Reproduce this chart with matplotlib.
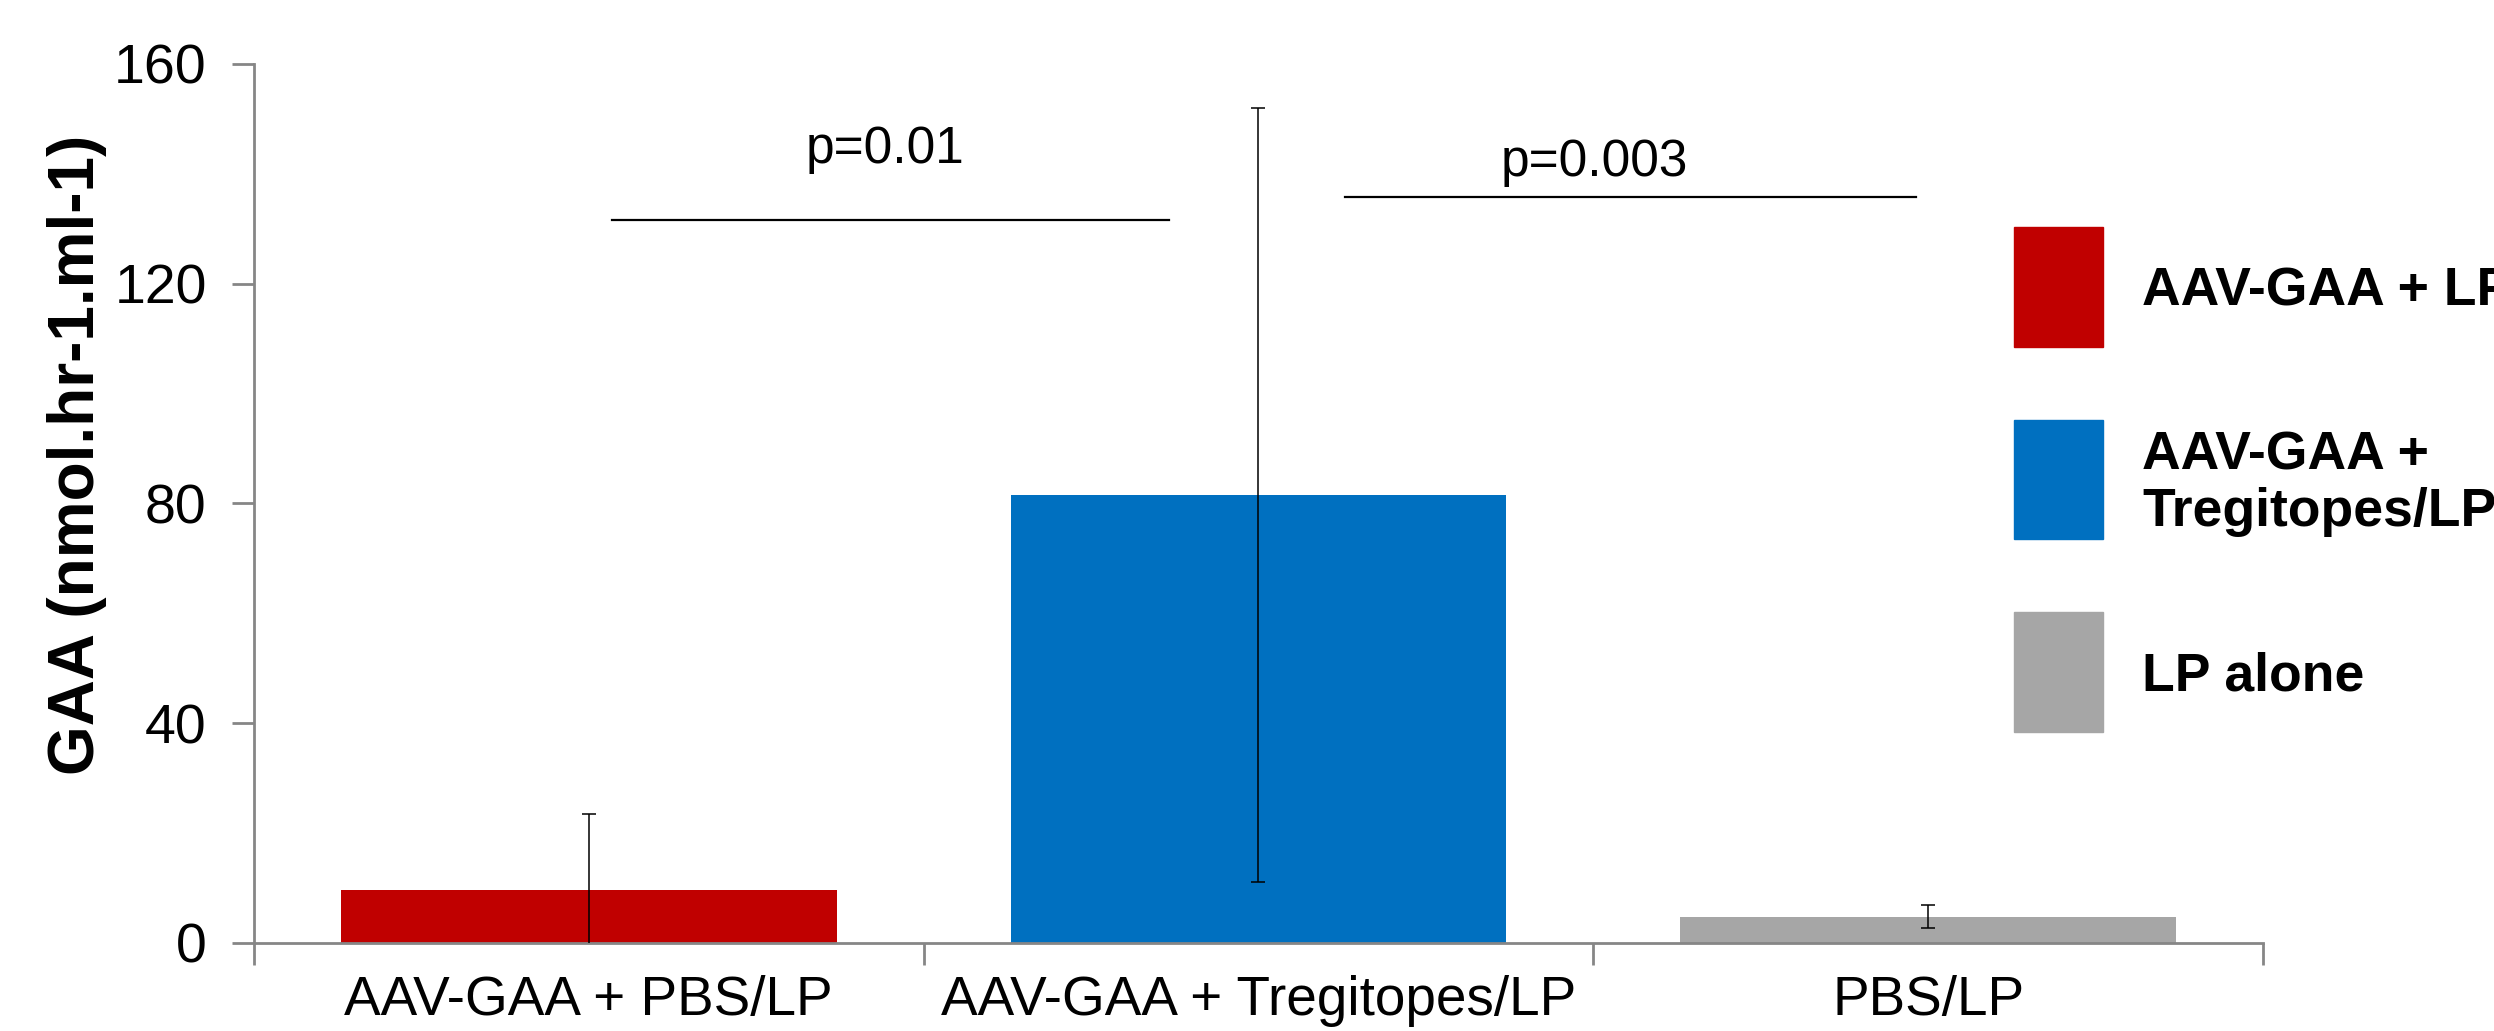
import matplotlib
matplotlib.use("Agg")
import matplotlib.pyplot as plt
from matplotlib.patches import Rectangle

plt.rcParams['font.family'] = ['Liberation Sans', 'DejaVu Sans']

# données
groupes = ['AAV-GAA + PBS/LP', 'AAV-GAA + Tregitopes/LP', 'PBS/LP']
moyennes = [9.7, 81.5, 4.8]
erreurs = [13.8, 70.4, 2.1]
couleurs = ['#C00000', '#0070C0', '#A6A6A6']
legende = ['AAV-GAA + LP', 'AAV-GAA +\nTregitopes/LP', 'LP alone']
# barres de significativité : (x debut, x fin, hauteur, texte, x texte, y texte)
signif = [(0.034, 0.866, 131.6, 'p=0.01', 0.443, 144.5),
          (1.129, 1.982, 135.7, 'p=0.003', 1.502, 142.0)]

fig = plt.figure(figsize=(24.94, 10.31), dpi=100)
ax = fig.add_axes([0.1018, 0.0854, 0.8056, 0.8526])

x = range(len(groupes))
ax.bar(x, moyennes, width=0.74, color=couleurs, zorder=2)
ax.errorbar(x, moyennes, yerr=erreurs, fmt='none', ecolor='black',
            elinewidth=1.1, capsize=4.7, capthick=1.1, zorder=3)

ax.set_xlim(-0.5, 2.5)
ax.set_ylim(0, 160)
ax.set_yticks([0, 40, 80, 120, 160])
ax.set_xticks(list(x))
ax.set_xticklabels(groupes)
ax.set_xticks([-0.5, 0.5, 1.5, 2.5], minor=True)
ax.tick_params(axis='x', which='major', length=0, labelsize=39.5, pad=23)
ax.tick_params(axis='x', which='minor', length=16, width=2, color='#868686')
ax.tick_params(axis='y', length=16, width=2, color='#868686', labelsize=40, pad=18)

for s in ['top', 'right']:
    ax.spines[s].set_visible(False)
for s in ['left', 'bottom']:
    ax.spines[s].set_color('#868686')
    ax.spines[s].set_linewidth(2)

ax.set_ylabel('GAA (nmol.hr-1.ml-1)', fontsize=46, fontweight='bold')
ax.yaxis.set_label_coords(-0.073, 0.555)

for x0, x1, h, txt, tx, ty in signif:
    ax.plot([x0, x1], [h, h], color='black', lw=1.6, clip_on=False)
    ax.text(tx, ty, txt, ha='center', va='center', fontsize=37)

# légende manuelle
W, H = 2494, 1031
boites = [(227, 347), (420, 539), (612, 732)]
for (y0, y1), c, lab in zip(boites, couleurs, legende):
    fig.add_artist(Rectangle((2014 / W, 1 - y1 / H), 89 / W, (y1 - y0) / H,
                             transform=fig.transFigure, color=c))
    fig.text(2142 / W, 1 - (y0 + y1) / 2 / H - 0.004, lab, fontsize=38.5,
             fontweight='bold', va='center', ha='left', linespacing=1.15)

fig.savefig('out.png', dpi=100)
